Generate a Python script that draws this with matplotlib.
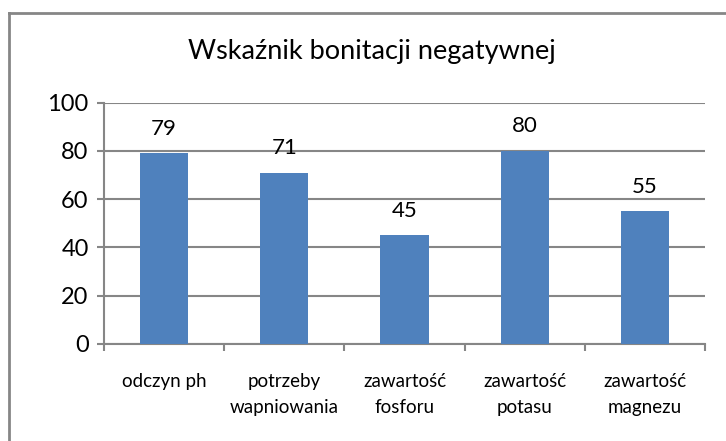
import matplotlib.pyplot as plt
from matplotlib.lines import Line2D

categories = ['odczyn ph', 'potrzeby\nwapniowania', 'zawartość\nfosforu', 'zawartość\npotasu', 'zawartość\nmagnezu']
values = [79, 71, 45, 80, 55]
yticks = [0, 20, 40, 60, 80, 100]

plt.rcParams['font.family'] = ['Lato', 'DejaVu Sans']

fig = plt.figure(figsize=(7.26, 4.41), dpi=100)
ax = fig.add_axes([104/726, 1 - 344/441, (705 - 104)/726, (344 - 102.7)/441])

gray = '#868686'
x = range(len(categories))
ax.bar(x, values, width=0.4, color='#4F81BD', zorder=3)
for i, v in enumerate(values):
    ax.annotate(str(v), (i, v), xytext=(0, 13.5), textcoords='offset points',
                ha='center', va='baseline', fontsize=16)

ax.set_xlim(-0.5, len(categories) - 0.5)
ax.set_ylim(0, 100)
ax.set_yticks(yticks)
ax.set_yticklabels([str(t) for t in yticks], fontsize=17)
ax.set_xticks([i - 0.5 for i in range(len(categories) + 1)], minor=False)
ax.set_xticklabels([''] * (len(categories) + 1))
ax.set_xticks(list(x), minor=True)
ax.set_xticklabels(categories, minor=True, fontsize=13.5, linespacing=1.6)
ax.tick_params(axis='x', which='minor', length=0, pad=21)
ax.tick_params(axis='x', which='major', length=5, direction='out', color=gray, width=1.5)
ax.tick_params(axis='y', length=5, direction='out', color=gray, width=1.5, pad=6)
ax.grid(axis='y', color=gray, linewidth=1.5, zorder=0)
for s in ['top', 'right']:
    ax.spines[s].set_visible(False)
for s in ['left', 'bottom']:
    ax.spines[s].set_color(gray)
    ax.spines[s].set_linewidth(1.5)

fig.text(372/726, 1 - 52/441, 'Wskaźnik bonitacji negatywnej', ha='center', va='center', fontsize=19.5)

# ramka wykresu (prawa i dolna krawędź poza obrazem)
fig.add_artist(Line2D([9/726, 1], [1 - 13/441, 1 - 13/441], color=gray, linewidth=2))
fig.add_artist(Line2D([9/726, 9/726], [0, 1 - 13/441], color=gray, linewidth=2))

fig.savefig('out.png', dpi=100)
